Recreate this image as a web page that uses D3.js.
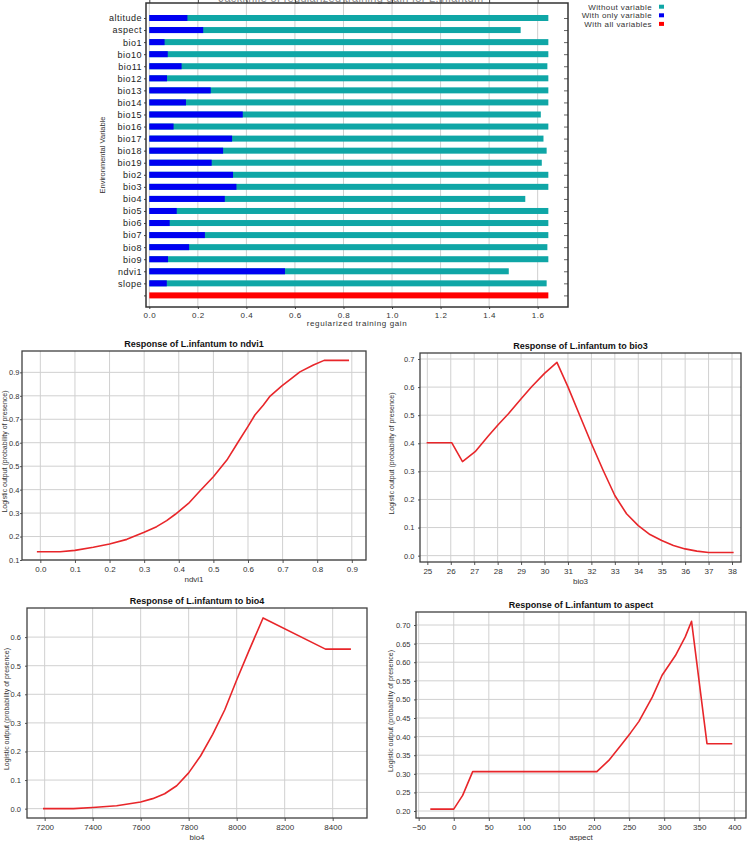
<!DOCTYPE html>
<html>
<head>
<meta charset="utf-8">
<script src="https://cdn.jsdelivr.net/npm/d3@7"></script>
<style>
  body { margin: 0; background: #fff; }
  svg { display: block; font-family: Arial, "Liberation Sans", sans-serif; }
</style>
</head>
<body>
<div id="chart"></div>
<script>
// Jackknife data (regularized training gain)
var variables = ["altitude", "aspect", "bio1", "bio10", "bio11", "bio12", "bio13", "bio14", "bio15", "bio16",
    "bio17", "bio18", "bio19", "bio2", "bio3", "bio4", "bio5", "bio6", "bio7", "bio8", "bio9", "ndvi1", "slope"];
var gainWithout = [1.644, 1.530, 1.644, 1.644, 1.640, 1.644, 1.644, 1.644, 1.613, 1.644,
    1.624, 1.637, 1.617, 1.644, 1.644, 1.549, 1.644, 1.644, 1.644, 1.640, 1.644, 1.481, 1.637];
var gainOnly = [0.157, 0.222, 0.063, 0.076, 0.133, 0.073, 0.253, 0.151, 0.385, 0.100,
    0.341, 0.304, 0.257, 0.345, 0.359, 0.311, 0.113, 0.084, 0.229, 0.164, 0.077, 0.559, 0.072];
var gainAll = 1.644;
var gainTicks = [0, 0.2, 0.4, 0.6, 0.8, 1.0, 1.2, 1.4, 1.6];
var legendLabels = ["Without variable", "With only variable", "With all variables"];

// Response curves
var ndviX = [-0.01, 0.057, 0.10, 0.153, 0.20, 0.25, 0.30, 0.336, 0.365, 0.39, 0.428, 0.461, 0.50, 0.539,
    0.572, 0.601, 0.62, 0.644, 0.664, 0.697, 0.726, 0.75, 0.789, 0.82, 0.892];
var ndviY = [0.135, 0.135, 0.141, 0.154, 0.168, 0.188, 0.218, 0.242, 0.268, 0.295, 0.341, 0.394, 0.455, 0.526,
    0.604, 0.672, 0.718, 0.76, 0.799, 0.841, 0.874, 0.902, 0.931, 0.951, 0.951];
var ndviXTicks = [0, 0.1, 0.2, 0.3, 0.4, 0.5, 0.6, 0.7, 0.8, 0.9];
var ndviYTicks = [0.1, 0.2, 0.3, 0.4, 0.5, 0.6, 0.7, 0.8, 0.9];

var bio3X = [24.97, 26.04, 26.5, 27.04, 27.6, 28.03, 28.46, 29.03, 29.46, 30.0, 30.53, 31.0, 31.5,
    32.0, 32.5, 33.0, 33.5, 34.0, 34.5, 35.0, 35.5, 36.0, 36.5, 37.0, 38.07];
var bio3Y = [0.402, 0.402, 0.335, 0.370, 0.426, 0.467, 0.505, 0.561, 0.602, 0.649, 0.688, 0.601, 0.500,
    0.399, 0.304, 0.214, 0.149, 0.107, 0.075, 0.054, 0.036, 0.024, 0.016, 0.011, 0.011];
var bio3XTicks = [25, 26, 27, 28, 29, 30, 31, 32, 33, 34, 35, 36, 37, 38];
var bio3YTicks = [0, 0.1, 0.2, 0.3, 0.4, 0.5, 0.6, 0.7];

var bio4X = [7193, 7320, 7400, 7500, 7600, 7650, 7700, 7750, 7800, 7850, 7900, 7950, 8000, 8050, 8110, 8370, 8476];
var bio4Y = [0.0, 0.0, 0.004, 0.010, 0.023, 0.035, 0.052, 0.080, 0.125, 0.185, 0.260, 0.345, 0.450, 0.550,
    0.667, 0.558, 0.558];
var bio4XTicks = [7200, 7400, 7600, 7800, 8000, 8200, 8400];
var bio4YTicks = [0, 0.1, 0.2, 0.3, 0.4, 0.5, 0.6];

var aspectX = [-33.4, 0, 12.7, 27, 204, 221, 240, 252, 264, 283, 297, 316, 330, 339, 361, 397];
var aspectY = [0.205, 0.205, 0.242, 0.306, 0.306, 0.336, 0.381, 0.410, 0.441, 0.506, 0.565, 0.618, 0.668,
    0.710, 0.381, 0.381];
var aspectXTicks = [-50, 0, 50, 100, 150, 200, 250, 300, 350, 400];
var aspectYTicks = [0.20, 0.25, 0.30, 0.35, 0.40, 0.45, 0.50, 0.55, 0.60, 0.65, 0.70];

var svgWidth = 751;
var svgHeight = 841;

var svg = d3.select("#chart")
    .append("svg")
    .attr("width", svgWidth)
    .attr("height", svgHeight);

// ------------------------------------------------------------------
// Jackknife bar chart
var jk = { left: 146, right: 568, top: 3, bottom: 307 };

var x = d3.scaleLinear()
    .domain([-0.0136, 1.725])
    .range([jk.left, jk.right]);

var rows = variables.concat(["__all"]);
var y = d3.scalePoint()
    .domain(rows)
    .range([18, 295.4]);

var barH = 6;

// title, mostly cut off by the top edge (as in the original image)
svg.append("text")
    .attr("x", 351)
    .attr("y", 1.5)
    .attr("text-anchor", "middle")
    .style("font-size", "11px")
    .style("letter-spacing", "0.3px")
    .attr("fill", "#888")
    .text("Jackknife of regularized training gain for L.infantum");

// vertical grid
svg.append("g")
    .selectAll("line")
    .data(gainTicks)
    .enter()
    .append("line")
    .attr("x1", d => x(d))
    .attr("x2", d => x(d))
    .attr("y1", jk.top)
    .attr("y2", jk.bottom)
    .attr("stroke", "#cfcfcf")
    .attr("stroke-width", 1);

var barData = variables.map(function(v, i) {
    return { name: v, without: gainWithout[i], only: gainOnly[i] };
});

svg.append("g")
    .selectAll("rect")
    .data(barData)
    .enter()
    .append("rect")
    .attr("x", x(0))
    .attr("y", d => y(d.name) - barH / 2)
    .attr("width", d => x(d.without) - x(0))
    .attr("height", barH)
    .attr("fill", "#0fa6a6");

svg.append("g")
    .selectAll("rect")
    .data(barData)
    .enter()
    .append("rect")
    .attr("x", x(0))
    .attr("y", d => y(d.name) - barH / 2)
    .attr("width", d => x(d.only) - x(0))
    .attr("height", barH)
    .attr("fill", "#0000f2");

svg.append("rect")
    .attr("x", x(0))
    .attr("y", y("__all") - barH / 2)
    .attr("width", x(gainAll) - x(0))
    .attr("height", barH)
    .attr("fill", "#ff0000");

// axes
var bottomAxis = d3.axisBottom(x)
    .tickValues(gainTicks)
    .tickFormat(d3.format(".1f"))
    .tickSize(2)
    .tickSizeOuter(0)
    .tickPadding(3);

var gx = svg.append("g")
    .attr("transform", `translate(0, ${jk.bottom})`)
    .call(bottomAxis);
gx.select(".domain").remove();
gx.selectAll("text")
    .style("font-size", "8px")
    .style("letter-spacing", "0.5px")
    .attr("fill", "#333");
gx.selectAll("line").attr("stroke", "#444");

var topAxis = d3.axisTop(x)
    .tickValues(gainTicks)
    .tickFormat("")
    .tickSize(3)
    .tickSizeOuter(0);
var gt = svg.append("g")
    .attr("transform", `translate(0, ${jk.top})`)
    .call(topAxis);
gt.select(".domain").remove();
gt.selectAll("line").attr("stroke", "#444");

var leftAxis = d3.axisLeft(y)
    .tickFormat(d => d === "__all" ? "" : d)
    .tickSize(2)
    .tickSizeOuter(0)
    .tickPadding(2);
var gy = svg.append("g")
    .attr("transform", `translate(${jk.left}, 0)`)
    .call(leftAxis);
gy.select(".domain").remove();
gy.selectAll("text")
    .style("font-size", "9px")
    .style("letter-spacing", "0.5px")
    .attr("fill", "#222");
gy.selectAll("line").attr("stroke", "#444");

var rightAxis = d3.axisLeft(y)
    .tickFormat("")
    .tickSize(4)
    .tickSizeOuter(0);
var gr = svg.append("g")
    .attr("transform", `translate(${jk.right}, 0)`)
    .call(rightAxis);
gr.select(".domain").remove();
gr.selectAll("line").attr("stroke", "#666");

svg.append("rect")
    .attr("x", jk.left)
    .attr("y", jk.top)
    .attr("width", jk.right - jk.left)
    .attr("height", jk.bottom - jk.top)
    .attr("fill", "none")
    .attr("stroke", "#333")
    .attr("stroke-width", 1.5);

svg.append("text")
    .attr("x", (jk.left + jk.right) / 2)
    .attr("y", 326)
    .attr("text-anchor", "middle")
    .style("font-size", "8px")
    .style("letter-spacing", "0.6px")
    .attr("fill", "#333")
    .text("regularized training gain");

svg.append("text")
    .attr("transform", `translate(105, 155) rotate(-90)`)
    .attr("text-anchor", "middle")
    .style("font-size", "7.5px")
    .attr("fill", "#333")
    .text("Environmental Variable");

// legend
var legendColors = ["#0fa6a6", "#0000f2", "#ff0000"];
var legend = svg.append("g");
legendLabels.forEach(function(lab, i) {
    var ly = 6.7 + i * 8.6;
    legend.append("text")
        .attr("x", 652)
        .attr("y", ly + 2.8)
        .attr("text-anchor", "end")
        .style("font-size", "8px")
        .style("letter-spacing", "0.4px")
        .attr("fill", "#333")
        .text(lab);
    legend.append("rect")
        .attr("x", 659)
        .attr("y", ly - 2)
        .attr("width", 5)
        .attr("height", 4)
        .attr("fill", legendColors[i]);
});

// ------------------------------------------------------------------
// Response curve panels
function responsePlot(p) {
    var g = svg.append("g");
    var xs = d3.scaleLinear().domain(p.xDomain).range([p.left, p.right]);
    var ys = d3.scaleLinear().domain(p.yDomain).range([p.bottom, p.top]);

    // grid
    g.append("g")
        .selectAll("line")
        .data(p.xTicks)
        .enter()
        .append("line")
        .attr("x1", d => xs(d)).attr("x2", d => xs(d))
        .attr("y1", p.top).attr("y2", p.bottom)
        .attr("stroke", "#d0d0d0");
    g.append("g")
        .selectAll("line")
        .data(p.yTicks)
        .enter()
        .append("line")
        .attr("x1", p.left).attr("x2", p.right)
        .attr("y1", d => ys(d)).attr("y2", d => ys(d))
        .attr("stroke", "#d0d0d0");

    var ax = g.append("g")
        .attr("transform", `translate(0, ${p.bottom})`)
        .call(d3.axisBottom(xs).tickValues(p.xTicks).tickFormat(p.xFmt)
            .tickSize(3).tickSizeOuter(0).tickPadding(3));
    var ay = g.append("g")
        .attr("transform", `translate(${p.left}, 0)`)
        .call(d3.axisLeft(ys).tickValues(p.yTicks).tickFormat(p.yFmt)
            .tickSize(2).tickSizeOuter(0).tickPadding(p.yPad));
    [ax, ay].forEach(function(a) {
        a.select(".domain").remove();
        a.selectAll("line").attr("stroke", "#555");
    });
    ax.selectAll("text").style("font-size", "8px").attr("fill", "#333");
    ay.selectAll("text").style("font-size", "7.5px").attr("fill", "#333");

    var line = d3.line()
        .x(d => xs(d[0]))
        .y(d => ys(d[1]));
    g.append("path")
        .datum(p.xs.map((v, i) => [v, p.ys[i]]))
        .attr("d", line)
        .attr("fill", "none")
        .attr("stroke", "#e8262a")
        .attr("stroke-width", 1.6)
        .attr("stroke-linejoin", "round");

    g.append("rect")
        .attr("x", p.left).attr("y", p.top)
        .attr("width", p.right - p.left).attr("height", p.bottom - p.top)
        .attr("fill", "none")
        .attr("stroke", "#404040")
        .attr("stroke-width", 1.3);

    g.append("text")
        .attr("x", (p.left + p.right) / 2)
        .attr("y", p.top - 4)
        .attr("text-anchor", "middle")
        .style("font-size", "9px")
        .style("font-weight", "bold")
        .attr("fill", "#111")
        .text(p.title);

    g.append("text")
        .attr("x", (p.left + p.right) / 2)
        .attr("y", p.bottom + 22)
        .attr("text-anchor", "middle")
        .style("font-size", "8px")
        .attr("fill", "#333")
        .text(p.xLabel);

    g.append("text")
        .attr("transform", `translate(${p.yLabelX}, ${(p.top + p.bottom) / 2 - 4}) rotate(-90)`)
        .attr("text-anchor", "middle")
        .style("font-size", "7px")
        .attr("fill", "#333")
        .text("Logistic output (probability of presence)");
}

responsePlot({
    left: 22, right: 366, top: 351, bottom: 560,
    xDomain: [-0.053, 0.941], yDomain: [0.1, 0.991],
    xTicks: ndviXTicks, yTicks: ndviYTicks,
    xFmt: d3.format(".1f"), yFmt: d3.format(".1f"), yPad: 0.5,
    xs: ndviX, ys: ndviY,
    title: "Response of L.infantum to ndvi1", xLabel: "ndvi1", yLabelX: 7
});

responsePlot({
    left: 420, right: 741, top: 353, bottom: 562,
    xDomain: [24.687, 38.384], yDomain: [-0.0226, 0.7214],
    xTicks: bio3XTicks, yTicks: bio3YTicks,
    xFmt: d3.format("d"), yFmt: d3.format(".1f"), yPad: 3.5,
    xs: bio3X, ys: bio3Y,
    title: "Response of L.infantum to bio3", xLabel: "bio3", yLabelX: 394
});

responsePlot({
    left: 27, right: 367, top: 608, bottom: 818,
    xDomain: [7126.4, 8543], yDomain: [-0.0327, 0.7018],
    xTicks: bio4XTicks, yTicks: bio4YTicks,
    xFmt: d3.format("d"), yFmt: d3.format(".1f"), yPad: 4,
    xs: bio4X, ys: bio4Y,
    title: "Response of L.infantum to bio4", xLabel: "bio4", yLabelX: 9
});

responsePlot({
    left: 416, right: 746, top: 612, bottom: 818,
    xDomain: [-53.8, 416.6], yDomain: [0.1812, 0.735],
    xTicks: aspectXTicks, yTicks: aspectYTicks,
    xFmt: d3.format("d"), yFmt: d3.format(".2f"), yPad: 3.5,
    xs: aspectX, ys: aspectY,
    title: "Response of L.infantum to aspect", xLabel: "aspect", yLabelX: 393
});
</script>
</body>
</html>
